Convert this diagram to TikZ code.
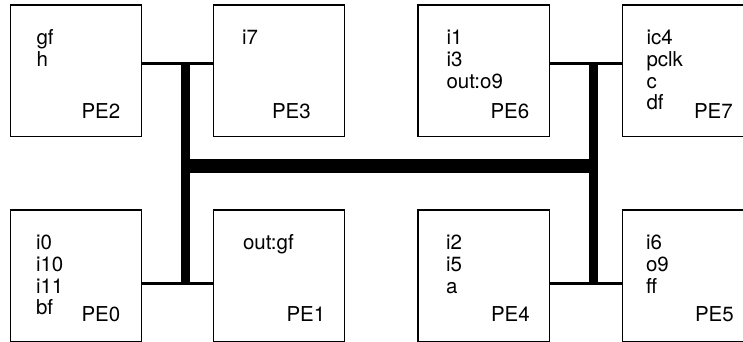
\documentclass[tikz,border=0pt]{standalone}
\usepackage{fontspec}
\setmainfont{TeX Gyre Heros}
\begin{document}
\begin{tikzpicture}[x=1pt,y=-1pt,
  pebox/.style={draw,line width=1.2pt,minimum width=131.5pt,minimum height=131.7pt,inner sep=0pt,outer sep=0pt},
  lbl/.style={anchor=base west,inner sep=0pt,outer sep=0pt,font=\fontsize{20.5}{21.8}\selectfont},
  link/.style={line width=3.5pt},
  bus/.style={line width=9pt},
  trunk/.style={line width=14pt}]
\useasboundingbox (0,0) rectangle (743,341);
\clip (0,0) rectangle (743,341);
% boxes
\node[pebox] (pe2) at (75.85,70.85) {};
\node[pebox] (pe3) at (279,70.85) {};
\node[pebox] (pe6) at (483.8,70.85) {};
\node[pebox] (pe7) at (688.4,70.85) {};
\node[pebox] (pe0) at (75.85,275.85) {};
\node[pebox] (pe1) at (279,275.85) {};
\node[pebox] (pe4) at (483.8,275.85) {};
\node[pebox] (pe5) at (688.4,275.85) {};
% contents
\node[lbl] (c2) at (36.5,44.5) {\vtop{\hbox{gf}\hbox{h}}};
\node[lbl] (c3) at (242,44.5) {\vtop{\hbox{i7}}};
\node[lbl] (c6) at (446.5,44.5) {\vtop{\hbox{i1}\hbox{i3}\hbox{out:o9}}};
\node[lbl] (c7) at (646.5,44.5) {\vtop{\hbox{ic4}\hbox{pclk}\hbox{c}\hbox{df}}};
\node[lbl] (c0) at (36,249.5) {\vtop{\hbox{i0}\hbox{i10}\hbox{i11}\hbox{bf}}};
\node[lbl] (c1) at (243,249.5) {\vtop{\hbox{out:gf}}};
\node[lbl] (c4) at (446,249.5) {\vtop{\hbox{i2}\hbox{i5}\hbox{a}}};
\node[lbl] (c5) at (646,249.5) {\vtop{\hbox{i6}\hbox{o9}\hbox{ff}}};
% PE names
\node[lbl] (n2) at (81.5,118.3) {PE2};
\node[lbl] (n3) at (272,118.3) {PE3};
\node[lbl] (n6) at (490.5,118.3) {PE6};
\node[lbl] (n7) at (694,118.3) {PE7};
\node[lbl] (n0) at (81.5,321.7) {PE0};
\node[lbl] (n1) at (286.5,321.7) {PE1};
\node[lbl] (n4) at (491,321.7) {PE4};
\node[lbl] (n5) at (695,321.7) {PE5};
% junctions
\coordinate (lt) at (185.5,63.3);
\coordinate (lb) at (185.5,283.3);
\coordinate (rt) at (593.8,63.3);
\coordinate (rb) at (593.8,283.3);
\coordinate (hl) at (185.5,166.3);
\coordinate (hr) at (593.8,166.3);
% links
\draw[link] (pe2.east |- lt) -- (pe3.west |- lt);
\draw[link] (pe0.east |- lb) -- (pe1.west |- lb);
\draw[link] (pe6.east |- rt) -- (pe7.west |- rt);
\draw[link] (pe4.east |- rb) -- (pe5.west |- rb);
% buses
\draw[bus] (lt) -- (lb);
\draw[bus] (rt) -- (rb);
\draw[trunk] (hl) -- (hr);
\end{tikzpicture}
\end{document}
